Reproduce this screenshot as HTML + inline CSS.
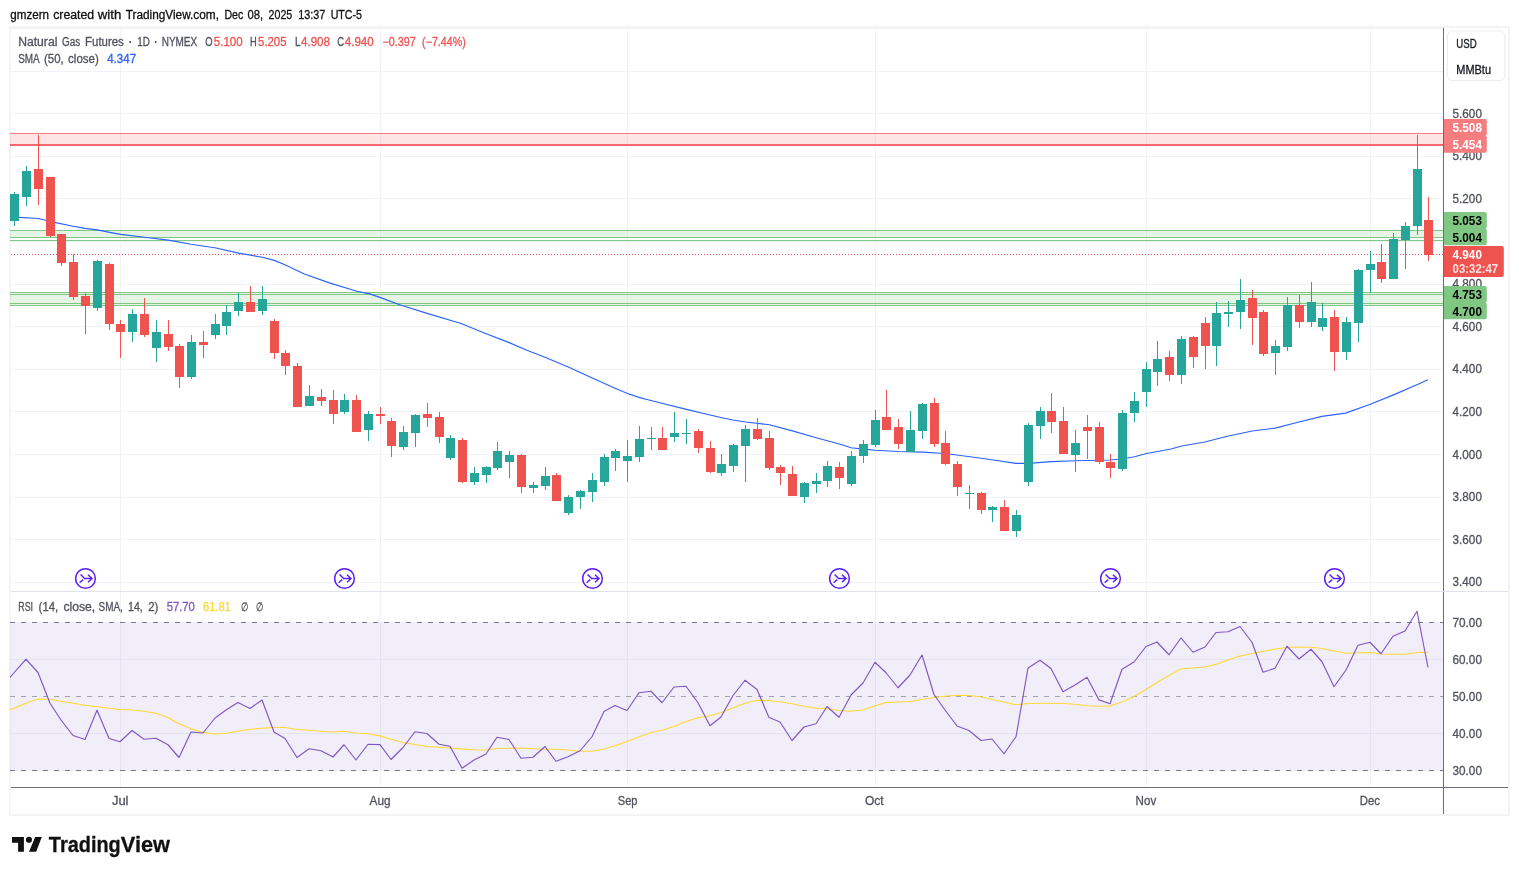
<!DOCTYPE html>
<html lang="en"><head><meta charset="utf-8"><title>Natural Gas Futures chart</title>
<style>html,body{margin:0;padding:0;background:#fff;}body{width:1519px;height:875px;overflow:hidden;}svg{display:block;}</style>
</head><body>
<svg width="1519" height="875" viewBox="0 0 1519 875" font-family='"Liberation Sans", sans-serif'>
<g shape-rendering="crispEdges">
<rect x="0" y="0" width="1519" height="875" fill="#ffffff" />
<rect x="9" y="26" width="1501" height="2" fill="#f4f4f4" />
<rect x="9" y="814" width="1501" height="2" fill="#f4f4f4" />
<rect x="9" y="26" width="2" height="790" fill="#f4f4f4" />
<rect x="1508" y="26" width="2" height="790" fill="#f4f4f4" />
<rect x="11" y="71" width="1432" height="1" fill="#f0f3fa" />
<rect x="11" y="113" width="1432" height="1" fill="#f0f3fa" />
<rect x="11" y="156" width="1432" height="1" fill="#f0f3fa" />
<rect x="11" y="198" width="1432" height="1" fill="#f0f3fa" />
<rect x="11" y="241" width="1432" height="1" fill="#f0f3fa" />
<rect x="11" y="284" width="1432" height="1" fill="#f0f3fa" />
<rect x="11" y="326" width="1432" height="1" fill="#f0f3fa" />
<rect x="11" y="369" width="1432" height="1" fill="#f0f3fa" />
<rect x="11" y="411" width="1432" height="1" fill="#f0f3fa" />
<rect x="11" y="454" width="1432" height="1" fill="#f0f3fa" />
<rect x="11" y="497" width="1432" height="1" fill="#f0f3fa" />
<rect x="11" y="539" width="1432" height="1" fill="#f0f3fa" />
<rect x="11" y="582" width="1432" height="1" fill="#f0f3fa" />
<rect x="11" y="28" width="1432" height="1" fill="#f0f3fa" />
<rect x="11" y="659" width="1432" height="1" fill="#f0f3fa" />
<rect x="11" y="733" width="1432" height="1" fill="#f0f3fa" />
<rect x="120" y="28" width="1" height="759" fill="#f0f3fa" />
<rect x="380" y="28" width="1" height="759" fill="#f0f3fa" />
<rect x="627" y="28" width="1" height="759" fill="#f0f3fa" />
<rect x="875" y="28" width="1" height="759" fill="#f0f3fa" />
<rect x="1146" y="28" width="1" height="759" fill="#f0f3fa" />
<rect x="1370" y="28" width="1" height="759" fill="#f0f3fa" />
<rect x="10" y="622" width="1433" height="149" fill="rgba(126,87,194,0.1)" />
<rect x="10" y="134" width="1433" height="10" fill="rgba(247,124,128,0.2)" />
<rect x="10" y="133" width="1433" height="1" fill="#f77c80" />
<rect x="10" y="144" width="1433" height="2" fill="#f7696f" />
<rect x="10" y="231" width="1433" height="6" fill="rgba(129,199,132,0.2)" />
<rect x="10" y="230" width="1433" height="1" fill="#81c784" />
<rect x="10" y="237" width="1433" height="1" fill="#81c784" />
<rect x="10" y="240" width="1433" height="1" fill="#81c784" />
<rect x="10" y="293" width="1433" height="12" fill="rgba(129,199,132,0.2)" />
<rect x="10" y="292" width="1433" height="1" fill="#81c784" />
<rect x="10" y="294" width="1433" height="1" fill="#81c784" />
<rect x="10" y="303" width="1433" height="1" fill="#81c784" />
<rect x="10" y="305" width="1433" height="1" fill="#81c784" />
</g>
<line x1="11" y1="254.5" x2="1443" y2="254.5" stroke="#ef5350" stroke-width="1" stroke-dasharray="1 2" shape-rendering="crispEdges"/>
<line x1="10" y1="622.5" x2="1443" y2="622.5" stroke="#787b86" stroke-width="1" stroke-dasharray="5 6" shape-rendering="crispEdges"/>
<line x1="10" y1="696.5" x2="1443" y2="696.5" stroke="#a0a3ab" stroke-width="1" stroke-dasharray="5 6" shape-rendering="crispEdges"/>
<line x1="10" y1="770.5" x2="1443" y2="770.5" stroke="#787b86" stroke-width="1" stroke-dasharray="5 6" shape-rendering="crispEdges"/>
<polyline points="10,217.2 19.1,217.4 38.4,218.5 55.7,222.6 73.1,226.2 85,228.4 97.4,229.9 109.7,232.4 120.7,234.4 144.4,237.2 168.4,240.1 191.1,244.3 214.9,247.8 238.7,253.1 262.4,257.3 274.3,260.4 286,265.3 303.8,273.8 329.4,282.9 356.8,291.2 369.6,293.9 380.6,297.6 398.9,304.5 426.3,313.1 461.1,323.5 484.9,333.2 508.6,342.4 526.9,350.2 545,357.3 568.25,367 592.25,378 615,388.3 627,393.2 639,397.4 648.8,400 662,403.2 685.4,409.1 710,415 721.9,417.7 732.75,420 745.7,422 769.5,424.7 793.3,431.1 816.25,437.8 839.2,444 851.1,447.7 863.4,449.1 875.4,450.2 898.7,451.5 922.4,452.1 945.3,453.5 970,456.8 991.9,459.75 1015.7,463.4 1028.5,463.4 1051.4,461.6 1075.2,460.7 1099,460.3 1110.5,460 1122.5,459 1134.5,456.7 1146.5,453.5 1170,449.3 1181.9,446 1204.8,442 1228.5,436 1252.3,431 1275.2,428.1 1298,422.25 1321.8,416.4 1345.6,413.1 1370.3,404.3 1394.1,394.6 1416.9,384.75 1427.9,379.8" fill="none" stroke="#2962ff" stroke-width="1.15" stroke-linejoin="round"/>
<g shape-rendering="crispEdges">
<rect x="14" y="192" width="1" height="34" fill="#26a69a" />
<rect x="10" y="194" width="9" height="27" fill="#26a69a" />
<rect x="26" y="166" width="1" height="40" fill="#26a69a" />
<rect x="22" y="171" width="9" height="26" fill="#26a69a" />
<rect x="38" y="135" width="1" height="70" fill="#ef5350" />
<rect x="34" y="169" width="9" height="20" fill="#ef5350" />
<rect x="50" y="177" width="1" height="60" fill="#ef5350" />
<rect x="46" y="177" width="9" height="59" fill="#ef5350" />
<rect x="61" y="234" width="1" height="32" fill="#ef5350" />
<rect x="57" y="234" width="9" height="29" fill="#ef5350" />
<rect x="73" y="254" width="1" height="46" fill="#ef5350" />
<rect x="69" y="262" width="9" height="35" fill="#ef5350" />
<rect x="85" y="293" width="1" height="41" fill="#ef5350" />
<rect x="81" y="296" width="9" height="10" fill="#ef5350" />
<rect x="97" y="260" width="1" height="51" fill="#26a69a" />
<rect x="93" y="261" width="9" height="47" fill="#26a69a" />
<rect x="109" y="263" width="1" height="67" fill="#ef5350" />
<rect x="105" y="264" width="9" height="60" fill="#ef5350" />
<rect x="120" y="320" width="1" height="38" fill="#ef5350" />
<rect x="116" y="324" width="9" height="8" fill="#ef5350" />
<rect x="132" y="309" width="1" height="33" fill="#26a69a" />
<rect x="128" y="314" width="9" height="18" fill="#26a69a" />
<rect x="144" y="298" width="1" height="39" fill="#ef5350" />
<rect x="140" y="314" width="9" height="21" fill="#ef5350" />
<rect x="156" y="320" width="1" height="42" fill="#26a69a" />
<rect x="152" y="332" width="9" height="16" fill="#26a69a" />
<rect x="168" y="320" width="1" height="31" fill="#ef5350" />
<rect x="164" y="334" width="9" height="13" fill="#ef5350" />
<rect x="179" y="344" width="1" height="44" fill="#ef5350" />
<rect x="175" y="346" width="9" height="31" fill="#ef5350" />
<rect x="191" y="335" width="1" height="44" fill="#26a69a" />
<rect x="187" y="342" width="9" height="35" fill="#26a69a" />
<rect x="203" y="331" width="1" height="27" fill="#ef5350" />
<rect x="199" y="342" width="9" height="3" fill="#ef5350" />
<rect x="215" y="314" width="1" height="25" fill="#26a69a" />
<rect x="211" y="324" width="9" height="11" fill="#26a69a" />
<rect x="226" y="305" width="1" height="30" fill="#26a69a" />
<rect x="222" y="312" width="9" height="14" fill="#26a69a" />
<rect x="238" y="293" width="1" height="23" fill="#26a69a" />
<rect x="234" y="302" width="9" height="9" fill="#26a69a" />
<rect x="250" y="286" width="1" height="26" fill="#ef5350" />
<rect x="246" y="302" width="9" height="10" fill="#ef5350" />
<rect x="262" y="286" width="1" height="29" fill="#26a69a" />
<rect x="258" y="299" width="9" height="12" fill="#26a69a" />
<rect x="274" y="319" width="1" height="40" fill="#ef5350" />
<rect x="270" y="321" width="9" height="32" fill="#ef5350" />
<rect x="285" y="350" width="1" height="25" fill="#ef5350" />
<rect x="281" y="353" width="9" height="13" fill="#ef5350" />
<rect x="297" y="363" width="1" height="44" fill="#ef5350" />
<rect x="293" y="366" width="9" height="41" fill="#ef5350" />
<rect x="309" y="385" width="1" height="21" fill="#26a69a" />
<rect x="305" y="396" width="9" height="10" fill="#26a69a" />
<rect x="321" y="389" width="1" height="17" fill="#ef5350" />
<rect x="317" y="397" width="9" height="4" fill="#ef5350" />
<rect x="333" y="390" width="1" height="34" fill="#ef5350" />
<rect x="329" y="400" width="9" height="14" fill="#ef5350" />
<rect x="344" y="394" width="1" height="20" fill="#26a69a" />
<rect x="340" y="400" width="9" height="12" fill="#26a69a" />
<rect x="356" y="395" width="1" height="37" fill="#ef5350" />
<rect x="352" y="400" width="9" height="32" fill="#ef5350" />
<rect x="368" y="411" width="1" height="30" fill="#26a69a" />
<rect x="364" y="414" width="9" height="16" fill="#26a69a" />
<rect x="380" y="407" width="1" height="17" fill="#ef5350" />
<rect x="376" y="414" width="9" height="2" fill="#ef5350" />
<rect x="391" y="418" width="1" height="39" fill="#ef5350" />
<rect x="387" y="421" width="9" height="25" fill="#ef5350" />
<rect x="403" y="426" width="1" height="24" fill="#26a69a" />
<rect x="399" y="432" width="9" height="15" fill="#26a69a" />
<rect x="415" y="414" width="1" height="33" fill="#26a69a" />
<rect x="411" y="415" width="9" height="18" fill="#26a69a" />
<rect x="427" y="403" width="1" height="24" fill="#ef5350" />
<rect x="423" y="414" width="9" height="4" fill="#ef5350" />
<rect x="439" y="412" width="1" height="31" fill="#ef5350" />
<rect x="435" y="417" width="9" height="20" fill="#ef5350" />
<rect x="450" y="435" width="1" height="25" fill="#26a69a" />
<rect x="446" y="438" width="9" height="20" fill="#26a69a" />
<rect x="462" y="438" width="1" height="45" fill="#ef5350" />
<rect x="458" y="440" width="9" height="42" fill="#ef5350" />
<rect x="474" y="467" width="1" height="18" fill="#26a69a" />
<rect x="470" y="473" width="9" height="9" fill="#26a69a" />
<rect x="486" y="466" width="1" height="17" fill="#26a69a" />
<rect x="482" y="467" width="9" height="8" fill="#26a69a" />
<rect x="497" y="442" width="1" height="28" fill="#26a69a" />
<rect x="493" y="451" width="9" height="17" fill="#26a69a" />
<rect x="509" y="451" width="1" height="27" fill="#26a69a" />
<rect x="505" y="455" width="9" height="7" fill="#26a69a" />
<rect x="521" y="454" width="1" height="39" fill="#ef5350" />
<rect x="517" y="455" width="9" height="32" fill="#ef5350" />
<rect x="533" y="482" width="1" height="11" fill="#26a69a" />
<rect x="529" y="485" width="9" height="3" fill="#26a69a" />
<rect x="545" y="467" width="1" height="23" fill="#26a69a" />
<rect x="541" y="476" width="9" height="10" fill="#26a69a" />
<rect x="556" y="473" width="1" height="28" fill="#ef5350" />
<rect x="552" y="475" width="9" height="26" fill="#ef5350" />
<rect x="568" y="495" width="1" height="20" fill="#26a69a" />
<rect x="564" y="497" width="9" height="16" fill="#26a69a" />
<rect x="580" y="490" width="1" height="19" fill="#26a69a" />
<rect x="576" y="491" width="9" height="6" fill="#26a69a" />
<rect x="592" y="473" width="1" height="29" fill="#26a69a" />
<rect x="588" y="480" width="9" height="12" fill="#26a69a" />
<rect x="604" y="454" width="1" height="32" fill="#26a69a" />
<rect x="600" y="457" width="9" height="25" fill="#26a69a" />
<rect x="615" y="449" width="1" height="22" fill="#26a69a" />
<rect x="611" y="451" width="9" height="7" fill="#26a69a" />
<rect x="627" y="440" width="1" height="42" fill="#26a69a" />
<rect x="623" y="456" width="9" height="5" fill="#26a69a" />
<rect x="639" y="426" width="1" height="36" fill="#26a69a" />
<rect x="635" y="439" width="9" height="18" fill="#26a69a" />
<rect x="651" y="427" width="1" height="23" fill="#26a69a" />
<rect x="647" y="438" width="9" height="1" fill="#26a69a" />
<rect x="662" y="427" width="1" height="23" fill="#ef5350" />
<rect x="658" y="438" width="9" height="12" fill="#ef5350" />
<rect x="674" y="412" width="1" height="30" fill="#26a69a" />
<rect x="670" y="433" width="9" height="4" fill="#26a69a" />
<rect x="686" y="419" width="1" height="25" fill="#26a69a" />
<rect x="682" y="433" width="9" height="1" fill="#26a69a" />
<rect x="698" y="429" width="1" height="24" fill="#ef5350" />
<rect x="694" y="431" width="9" height="17" fill="#ef5350" />
<rect x="710" y="441" width="1" height="32" fill="#ef5350" />
<rect x="706" y="448" width="9" height="24" fill="#ef5350" />
<rect x="721" y="454" width="1" height="22" fill="#26a69a" />
<rect x="717" y="464" width="9" height="9" fill="#26a69a" />
<rect x="733" y="444" width="1" height="28" fill="#26a69a" />
<rect x="729" y="445" width="9" height="21" fill="#26a69a" />
<rect x="745" y="425" width="1" height="57" fill="#26a69a" />
<rect x="741" y="429" width="9" height="17" fill="#26a69a" />
<rect x="757" y="418" width="1" height="22" fill="#ef5350" />
<rect x="753" y="429" width="9" height="10" fill="#ef5350" />
<rect x="769" y="431" width="1" height="39" fill="#ef5350" />
<rect x="765" y="438" width="9" height="30" fill="#ef5350" />
<rect x="780" y="465" width="1" height="20" fill="#ef5350" />
<rect x="776" y="467" width="9" height="6" fill="#ef5350" />
<rect x="792" y="466" width="1" height="30" fill="#ef5350" />
<rect x="788" y="474" width="9" height="22" fill="#ef5350" />
<rect x="804" y="482" width="1" height="21" fill="#26a69a" />
<rect x="800" y="483" width="9" height="14" fill="#26a69a" />
<rect x="816" y="473" width="1" height="20" fill="#26a69a" />
<rect x="812" y="481" width="9" height="3" fill="#26a69a" />
<rect x="827" y="461" width="1" height="26" fill="#26a69a" />
<rect x="823" y="466" width="9" height="15" fill="#26a69a" />
<rect x="839" y="462" width="1" height="27" fill="#ef5350" />
<rect x="835" y="467" width="9" height="11" fill="#ef5350" />
<rect x="851" y="451" width="1" height="35" fill="#26a69a" />
<rect x="847" y="456" width="9" height="28" fill="#26a69a" />
<rect x="863" y="440" width="1" height="23" fill="#26a69a" />
<rect x="859" y="444" width="9" height="12" fill="#26a69a" />
<rect x="875" y="410" width="1" height="37" fill="#26a69a" />
<rect x="871" y="420" width="9" height="25" fill="#26a69a" />
<rect x="886" y="390" width="1" height="40" fill="#ef5350" />
<rect x="882" y="417" width="9" height="13" fill="#ef5350" />
<rect x="898" y="419" width="1" height="30" fill="#ef5350" />
<rect x="894" y="427" width="9" height="17" fill="#ef5350" />
<rect x="910" y="411" width="1" height="41" fill="#26a69a" />
<rect x="906" y="430" width="9" height="22" fill="#26a69a" />
<rect x="922" y="403" width="1" height="36" fill="#26a69a" />
<rect x="918" y="404" width="9" height="27" fill="#26a69a" />
<rect x="934" y="398" width="1" height="49" fill="#ef5350" />
<rect x="930" y="403" width="9" height="41" fill="#ef5350" />
<rect x="945" y="431" width="1" height="34" fill="#ef5350" />
<rect x="941" y="443" width="9" height="21" fill="#ef5350" />
<rect x="957" y="461" width="1" height="35" fill="#ef5350" />
<rect x="953" y="464" width="9" height="23" fill="#ef5350" />
<rect x="969" y="485" width="1" height="24" fill="#26a69a" />
<rect x="965" y="493" width="9" height="1" fill="#26a69a" />
<rect x="981" y="492" width="1" height="22" fill="#ef5350" />
<rect x="977" y="493" width="9" height="17" fill="#ef5350" />
<rect x="992" y="506" width="1" height="16" fill="#26a69a" />
<rect x="988" y="507" width="9" height="3" fill="#26a69a" />
<rect x="1004" y="500" width="1" height="31" fill="#ef5350" />
<rect x="1000" y="507" width="9" height="24" fill="#ef5350" />
<rect x="1016" y="510" width="1" height="27" fill="#26a69a" />
<rect x="1012" y="515" width="9" height="16" fill="#26a69a" />
<rect x="1028" y="423" width="1" height="63" fill="#26a69a" />
<rect x="1024" y="425" width="9" height="57" fill="#26a69a" />
<rect x="1040" y="407" width="1" height="32" fill="#26a69a" />
<rect x="1036" y="411" width="9" height="15" fill="#26a69a" />
<rect x="1051" y="393" width="1" height="40" fill="#ef5350" />
<rect x="1047" y="411" width="9" height="11" fill="#ef5350" />
<rect x="1063" y="407" width="1" height="47" fill="#ef5350" />
<rect x="1059" y="421" width="9" height="33" fill="#ef5350" />
<rect x="1075" y="430" width="1" height="42" fill="#26a69a" />
<rect x="1071" y="443" width="9" height="12" fill="#26a69a" />
<rect x="1087" y="415" width="1" height="44" fill="#ef5350" />
<rect x="1083" y="427" width="9" height="4" fill="#ef5350" />
<rect x="1099" y="422" width="1" height="42" fill="#ef5350" />
<rect x="1095" y="427" width="9" height="35" fill="#ef5350" />
<rect x="1110" y="454" width="1" height="24" fill="#ef5350" />
<rect x="1106" y="462" width="9" height="6" fill="#ef5350" />
<rect x="1122" y="410" width="1" height="61" fill="#26a69a" />
<rect x="1118" y="413" width="9" height="56" fill="#26a69a" />
<rect x="1134" y="392" width="1" height="30" fill="#26a69a" />
<rect x="1130" y="401" width="9" height="12" fill="#26a69a" />
<rect x="1146" y="362" width="1" height="45" fill="#26a69a" />
<rect x="1142" y="369" width="9" height="23" fill="#26a69a" />
<rect x="1157" y="341" width="1" height="45" fill="#26a69a" />
<rect x="1153" y="359" width="9" height="13" fill="#26a69a" />
<rect x="1169" y="351" width="1" height="30" fill="#ef5350" />
<rect x="1165" y="357" width="9" height="18" fill="#ef5350" />
<rect x="1181" y="336" width="1" height="48" fill="#26a69a" />
<rect x="1177" y="339" width="9" height="36" fill="#26a69a" />
<rect x="1193" y="336" width="1" height="32" fill="#ef5350" />
<rect x="1189" y="337" width="9" height="20" fill="#ef5350" />
<rect x="1205" y="317" width="1" height="52" fill="#ef5350" />
<rect x="1201" y="323" width="9" height="23" fill="#ef5350" />
<rect x="1216" y="302" width="1" height="64" fill="#26a69a" />
<rect x="1212" y="313" width="9" height="33" fill="#26a69a" />
<rect x="1228" y="301" width="1" height="26" fill="#26a69a" />
<rect x="1224" y="312" width="9" height="2" fill="#26a69a" />
<rect x="1240" y="279" width="1" height="50" fill="#26a69a" />
<rect x="1236" y="300" width="9" height="12" fill="#26a69a" />
<rect x="1252" y="290" width="1" height="55" fill="#ef5350" />
<rect x="1248" y="298" width="9" height="20" fill="#ef5350" />
<rect x="1263" y="310" width="1" height="46" fill="#ef5350" />
<rect x="1259" y="312" width="9" height="42" fill="#ef5350" />
<rect x="1275" y="340" width="1" height="35" fill="#26a69a" />
<rect x="1271" y="346" width="9" height="7" fill="#26a69a" />
<rect x="1287" y="297" width="1" height="54" fill="#26a69a" />
<rect x="1283" y="305" width="9" height="42" fill="#26a69a" />
<rect x="1299" y="295" width="1" height="33" fill="#ef5350" />
<rect x="1295" y="305" width="9" height="17" fill="#ef5350" />
<rect x="1311" y="282" width="1" height="45" fill="#26a69a" />
<rect x="1307" y="302" width="9" height="20" fill="#26a69a" />
<rect x="1322" y="303" width="1" height="28" fill="#26a69a" />
<rect x="1318" y="318" width="9" height="9" fill="#26a69a" />
<rect x="1334" y="310" width="1" height="61" fill="#ef5350" />
<rect x="1330" y="317" width="9" height="35" fill="#ef5350" />
<rect x="1346" y="317" width="1" height="43" fill="#26a69a" />
<rect x="1342" y="322" width="9" height="30" fill="#26a69a" />
<rect x="1358" y="269" width="1" height="73" fill="#26a69a" />
<rect x="1354" y="270" width="9" height="53" fill="#26a69a" />
<rect x="1370" y="251" width="1" height="42" fill="#26a69a" />
<rect x="1366" y="264" width="9" height="6" fill="#26a69a" />
<rect x="1381" y="244" width="1" height="39" fill="#ef5350" />
<rect x="1377" y="262" width="9" height="17" fill="#ef5350" />
<rect x="1393" y="233" width="1" height="46" fill="#26a69a" />
<rect x="1389" y="239" width="9" height="40" fill="#26a69a" />
<rect x="1405" y="222" width="1" height="47" fill="#26a69a" />
<rect x="1401" y="226" width="9" height="14" fill="#26a69a" />
<rect x="1417" y="135" width="1" height="100" fill="#26a69a" />
<rect x="1413" y="169" width="9" height="57" fill="#26a69a" />
<rect x="1428" y="197" width="1" height="64" fill="#ef5350" />
<rect x="1424" y="220" width="9" height="35" fill="#ef5350" />
</g>
<clipPath id="cp"><rect x="10" y="592" width="1433" height="195"/></clipPath>
<g clip-path="url(#cp)"><polyline points="-1.3,714 14,708.2 26,703.25 38,699 50,699.25 61,701.25 73,703.25 85,705.25 97,706.75 109,708.25 120,709.5 132,710 144,711.25 156,713.25 168,717.5 179,723.75 191,728.75 203,732.5 215,734 226,733.25 238,731.25 250,729.25 262,728.25 274,727.5 285,727.5 297,729.5 309,730.25 321,731.25 333,732 344,731.25 356,733 368,733.75 380,735.9 391,739.25 403,742.5 415,744.5 427,746.5 439,747.25 450,748 462,749 474,749.75 486,750 497,748.5 509,748.25 521,748 533,748.75 545,749.25 556,749.25 568,750 580,751.25 592,751.25 604,749 615,745.75 627,741.5 639,736.75 651,732.5 662,730.25 674,726.5 686,721.5 698,717.75 710,715.75 721,712.5 733,708 745,703.25 757,700.25 769,700.5 780,701.75 792,703.75 804,706.25 816,708.25 827,708.75 839,710.5 851,711.25 863,710 875,705.75 886,702.5 898,702 910,701.5 922,699.25 934,697.5 945,696.25 957,695.25 969,695.5 981,696.75 992,699.5 1004,702 1016,704.75 1028,703.5 1040,703.25 1051,703.25 1063,703.5 1075,704.25 1087,705.75 1099,706.25 1110,706 1122,701.75 1134,696.5 1146,689.5 1157,682.5 1169,675.5 1181,669 1193,668 1205,667 1216,664.25 1228,660 1240,656 1252,653.5 1263,651.5 1275,649 1287,647.5 1299,647 1311,647.25 1322,648.5 1334,651 1346,653.25 1358,652.75 1370,652.5 1381,654 1393,654.25 1405,654.25 1417,652.5 1428,652.25" fill="none" stroke="#fdd835" stroke-width="1.15" stroke-linejoin="round"/>
<polyline points="2.7,686 14,672.75 26,659.25 38,672.5 50,703.25 61,720 73,735.5 85,739.5 97,710.25 109,738.5 120,741.75 132,730.5 144,739.25 156,738.25 168,744.75 179,757.5 191,732 203,733 215,718 226,710 238,702.5 250,708.5 262,700 274,732 285,738.5 297,757.5 309,748.75 321,750.75 333,757 344,744.75 356,760 368,744.25 380,744.6 391,759.5 403,747.5 415,731.75 427,733.5 439,744.25 450,746.25 462,768.25 474,760 486,754 497,737.25 509,739.5 521,758.25 533,757.25 545,746.5 556,761.25 568,756.75 580,750.75 592,736.75 604,711.5 615,705.5 627,710.5 639,692.75 651,691.25 662,702.75 674,687 686,686.25 698,702.75 710,725.75 721,717 733,695.5 745,680.25 757,689.5 769,717.5 780,722 792,740.5 804,727 816,723.75 827,706.5 839,717.25 851,695 863,683 875,662.25 886,672.75 898,687.75 910,675 922,655 934,694.5 945,710 957,726 969,730.5 981,740.5 992,739 1004,753.75 1016,736.75 1028,668 1040,660.25 1051,668.5 1063,691.75 1075,685 1087,677.25 1099,699.9 1110,703.75 1122,669.25 1134,662 1146,646.5 1157,642 1169,654.75 1181,638 1193,652.25 1205,647 1216,632.5 1228,631.75 1240,626.5 1252,642.25 1263,672.25 1275,668.25 1287,646.25 1299,659 1311,649.25 1322,661.75 1334,686.75 1346,670 1358,645.25 1370,642.25 1381,653.75 1393,636.25 1405,631 1417,611.25 1428,667.5" fill="none" stroke="#7e57c2" stroke-width="1.15" stroke-linejoin="round"/></g>
<g shape-rendering="crispEdges">
<rect x="1443" y="28" width="1" height="786" fill="#6a6d78" />
<rect x="11" y="787" width="1497" height="1" fill="#6a6d78" />
<rect x="11" y="591" width="1497" height="1" fill="#e0e3eb" />
</g>
<g transform="translate(85.5,578.5)" fill="none" stroke="#5b21f5" stroke-width="1.5"><circle cx="0" cy="0" r="9.85" fill="#fff"/><path d="M-4.9,-4.1 L-0.9,0 L6.2,0 M2.5,-3.8 L6.5,0 L2.5,3.7 M-5.9,4.2 L-2.3,1.1"/></g>
<g transform="translate(344.5,578.5)" fill="none" stroke="#5b21f5" stroke-width="1.5"><circle cx="0" cy="0" r="9.85" fill="#fff"/><path d="M-4.9,-4.1 L-0.9,0 L6.2,0 M2.5,-3.8 L6.5,0 L2.5,3.7 M-5.9,4.2 L-2.3,1.1"/></g>
<g transform="translate(592.5,578.5)" fill="none" stroke="#5b21f5" stroke-width="1.5"><circle cx="0" cy="0" r="9.85" fill="#fff"/><path d="M-4.9,-4.1 L-0.9,0 L6.2,0 M2.5,-3.8 L6.5,0 L2.5,3.7 M-5.9,4.2 L-2.3,1.1"/></g>
<g transform="translate(839.5,578.5)" fill="none" stroke="#5b21f5" stroke-width="1.5"><circle cx="0" cy="0" r="9.85" fill="#fff"/><path d="M-4.9,-4.1 L-0.9,0 L6.2,0 M2.5,-3.8 L6.5,0 L2.5,3.7 M-5.9,4.2 L-2.3,1.1"/></g>
<g transform="translate(1110.5,578.5)" fill="none" stroke="#5b21f5" stroke-width="1.5"><circle cx="0" cy="0" r="9.85" fill="#fff"/><path d="M-4.9,-4.1 L-0.9,0 L6.2,0 M2.5,-3.8 L6.5,0 L2.5,3.7 M-5.9,4.2 L-2.3,1.1"/></g>
<g transform="translate(1334.5,578.5)" fill="none" stroke="#5b21f5" stroke-width="1.5"><circle cx="0" cy="0" r="9.85" fill="#fff"/><path d="M-4.9,-4.1 L-0.9,0 L6.2,0 M2.5,-3.8 L6.5,0 L2.5,3.7 M-5.9,4.2 L-2.3,1.1"/></g>
<text x="1452.6" y="117.6" fill="#50535e" font-size="12" textLength="29.3" lengthAdjust="spacingAndGlyphs" stroke="#50535e" stroke-width="0.3" >5.600</text>
<text x="1452.6" y="160.2" fill="#50535e" font-size="12" textLength="29.3" lengthAdjust="spacingAndGlyphs" stroke="#50535e" stroke-width="0.3" >5.400</text>
<text x="1452.6" y="202.8" fill="#50535e" font-size="12" textLength="29.3" lengthAdjust="spacingAndGlyphs" stroke="#50535e" stroke-width="0.3" >5.200</text>
<text x="1452.6" y="288.0" fill="#50535e" font-size="12" textLength="29.3" lengthAdjust="spacingAndGlyphs" stroke="#50535e" stroke-width="0.3" >4.800</text>
<text x="1452.6" y="330.6" fill="#50535e" font-size="12" textLength="29.3" lengthAdjust="spacingAndGlyphs" stroke="#50535e" stroke-width="0.3" >4.600</text>
<text x="1452.6" y="373.2" fill="#50535e" font-size="12" textLength="29.3" lengthAdjust="spacingAndGlyphs" stroke="#50535e" stroke-width="0.3" >4.400</text>
<text x="1452.6" y="415.8" fill="#50535e" font-size="12" textLength="29.3" lengthAdjust="spacingAndGlyphs" stroke="#50535e" stroke-width="0.3" >4.200</text>
<text x="1452.6" y="459.1" fill="#50535e" font-size="12" textLength="29.3" lengthAdjust="spacingAndGlyphs" stroke="#50535e" stroke-width="0.3" >4.000</text>
<text x="1452.6" y="501.0" fill="#50535e" font-size="12" textLength="29.3" lengthAdjust="spacingAndGlyphs" stroke="#50535e" stroke-width="0.3" >3.800</text>
<text x="1452.6" y="543.6" fill="#50535e" font-size="12" textLength="29.3" lengthAdjust="spacingAndGlyphs" stroke="#50535e" stroke-width="0.3" >3.600</text>
<text x="1452.6" y="586.2" fill="#50535e" font-size="12" textLength="29.3" lengthAdjust="spacingAndGlyphs" stroke="#50535e" stroke-width="0.3" >3.400</text>
<text x="1452.6" y="626.8" fill="#50535e" font-size="12" textLength="29.3" lengthAdjust="spacingAndGlyphs" stroke="#50535e" stroke-width="0.3" >70.00</text>
<text x="1452.6" y="663.8" fill="#50535e" font-size="12" textLength="29.3" lengthAdjust="spacingAndGlyphs" stroke="#50535e" stroke-width="0.3" >60.00</text>
<text x="1452.6" y="701.3" fill="#50535e" font-size="12" textLength="29.3" lengthAdjust="spacingAndGlyphs" stroke="#50535e" stroke-width="0.3" >50.00</text>
<text x="1452.6" y="738.2" fill="#50535e" font-size="12" textLength="29.3" lengthAdjust="spacingAndGlyphs" stroke="#50535e" stroke-width="0.3" >40.00</text>
<text x="1452.6" y="775.4" fill="#50535e" font-size="12" textLength="29.3" lengthAdjust="spacingAndGlyphs" stroke="#50535e" stroke-width="0.3" >30.00</text>
<path d="M1444,119 H1484.8 Q1486.8,119 1486.8,121 V134.60000000000002 L1485.6,135.8 L1486.8,137.0 V150.7 Q1486.8,152.7 1484.8,152.7 H1444 Z" fill="#f77c80"/>
<text x="1452.6" y="131.9" fill="#fff" font-size="12" textLength="29.3" lengthAdjust="spacingAndGlyphs" font-weight="bold" >5.508</text>
<text x="1452.6" y="149" fill="#fff" font-size="12" textLength="29.3" lengthAdjust="spacingAndGlyphs" font-weight="bold" >5.454</text>
<path d="M1444,212.1 H1484.8 Q1486.8,212.1 1486.8,214.1 V227.3 L1485.6,228.5 L1486.8,229.7 V243.2 Q1486.8,245.2 1484.8,245.2 H1444 Z" fill="#81c784"/>
<text x="1452.6" y="224.9" fill="#000" font-size="12" textLength="29.3" lengthAdjust="spacingAndGlyphs" font-weight="bold" >5.053</text>
<text x="1452.6" y="242" fill="#000" font-size="12" textLength="29.3" lengthAdjust="spacingAndGlyphs" font-weight="bold" >5.004</text>
<path d="M1444,286 H1484.8 Q1486.8,286 1486.8,288 V301.6 L1485.6,302.8 L1486.8,304.0 V317.3 Q1486.8,319.3 1484.8,319.3 H1444 Z" fill="#81c784"/>
<text x="1452.6" y="299.1" fill="#000" font-size="12" textLength="29.3" lengthAdjust="spacingAndGlyphs" font-weight="bold" >4.753</text>
<text x="1452.6" y="316.1" fill="#000" font-size="12" textLength="29.3" lengthAdjust="spacingAndGlyphs" font-weight="bold" >4.700</text>
<path d="M1444,246 H1501.8 Q1503.8,246 1503.8,248 V274.9 Q1503.8,276.9 1501.8,276.9 H1444 Z" fill="#ef5350"/>
<text x="1452.6" y="259.1" fill="#fff" font-size="12" textLength="29.3" lengthAdjust="spacingAndGlyphs" font-weight="bold" >4.940</text>
<text x="1452.6" y="272.7" fill="rgba(255,255,255,0.85)" font-size="12" textLength="45.6" lengthAdjust="spacingAndGlyphs" font-weight="bold" >03:32:47</text>
<rect x="1447.4" y="30.9" width="57.4" height="49.8" rx="5" ry="5" fill="#fff" stroke="#ececee" stroke-width="1"/>
<text x="1456.3" y="47.7" fill="#131722" font-size="12" textLength="20.4" lengthAdjust="spacingAndGlyphs" stroke="#131722" stroke-width="0.3" >USD</text>
<text x="1456.3" y="73.8" fill="#131722" font-size="12" textLength="34.7" lengthAdjust="spacingAndGlyphs" stroke="#131722" stroke-width="0.3" >MMBtu</text>
<text y="18.6" fill="#111" font-size="12" stroke="#111" stroke-width="0.3"><tspan x="10.25" textLength="38.75" lengthAdjust="spacingAndGlyphs">gmzern</tspan> <tspan x="53.2" textLength="40.9" lengthAdjust="spacingAndGlyphs">created</tspan> <tspan x="97.8" textLength="23.5" lengthAdjust="spacingAndGlyphs">with</tspan> <tspan x="125.7" textLength="93.3" lengthAdjust="spacingAndGlyphs">TradingView.com,</tspan> <tspan x="224.4" textLength="18.8" lengthAdjust="spacingAndGlyphs">Dec</tspan> <tspan x="247.5" textLength="15.7" lengthAdjust="spacingAndGlyphs">08,</tspan> <tspan x="268.6" textLength="23.7" lengthAdjust="spacingAndGlyphs">2025</tspan> <tspan x="298.2" textLength="27.1" lengthAdjust="spacingAndGlyphs">13:37</tspan> <tspan x="330.7" textLength="31.3" lengthAdjust="spacingAndGlyphs">UTC-5</tspan></text>
<text y="45.8" fill="#50535e" font-size="12" stroke="#50535e" stroke-width="0.3"><tspan x="18.2" textLength="39.2" lengthAdjust="spacingAndGlyphs">Natural</tspan> <tspan x="62.1" textLength="18.2" lengthAdjust="spacingAndGlyphs">Gas</tspan> <tspan x="85.05" textLength="38.75" lengthAdjust="spacingAndGlyphs">Futures</tspan> <tspan x="128.6" font-weight="bold" stroke="none">·</tspan> <tspan x="137.2" textLength="12.6" lengthAdjust="spacingAndGlyphs">1D</tspan> <tspan x="154.0" font-weight="bold" stroke="none">·</tspan> <tspan x="161.7" textLength="35.5" lengthAdjust="spacingAndGlyphs">NYMEX</tspan></text>
<text x="205.2" y="45.8" fill="#50535e" font-size="12" textLength="7.3" lengthAdjust="spacingAndGlyphs" stroke="#50535e" stroke-width="0.3" >O</text>
<text x="213.8" y="45.8" fill="#ef5350" font-size="12" textLength="28.8" lengthAdjust="spacingAndGlyphs" stroke="#ef5350" stroke-width="0.3" >5.100</text>
<text x="250.1" y="45.8" fill="#50535e" font-size="12" textLength="6.7" lengthAdjust="spacingAndGlyphs" stroke="#50535e" stroke-width="0.3" >H</text>
<text x="258.1" y="45.8" fill="#ef5350" font-size="12" textLength="28.4" lengthAdjust="spacingAndGlyphs" stroke="#ef5350" stroke-width="0.3" >5.205</text>
<text x="294.9" y="45.8" fill="#50535e" font-size="12" textLength="5.6" lengthAdjust="spacingAndGlyphs" stroke="#50535e" stroke-width="0.3" >L</text>
<text x="301" y="45.8" fill="#ef5350" font-size="12" textLength="29" lengthAdjust="spacingAndGlyphs" stroke="#ef5350" stroke-width="0.3" >4.908</text>
<text x="337.3" y="45.8" fill="#50535e" font-size="12" textLength="6.8" lengthAdjust="spacingAndGlyphs" stroke="#50535e" stroke-width="0.3" >C</text>
<text x="344.7" y="45.8" fill="#ef5350" font-size="12" textLength="29.1" lengthAdjust="spacingAndGlyphs" stroke="#ef5350" stroke-width="0.3" >4.940</text>
<text y="45.8" fill="#ef5350" font-size="12" stroke="#ef5350" stroke-width="0.3"><tspan x="382.5" textLength="33.2" lengthAdjust="spacingAndGlyphs">−0.397</tspan> <tspan x="422.1" textLength="43.7" lengthAdjust="spacingAndGlyphs">(−7.44%)</tspan></text>
<text y="62.7" fill="#50535e" font-size="12" stroke="#50535e" stroke-width="0.3"><tspan x="18.2" textLength="21.0" lengthAdjust="spacingAndGlyphs">SMA</tspan> <tspan x="44" textLength="19.7" lengthAdjust="spacingAndGlyphs">(50,</tspan> <tspan x="68.1" textLength="30.7" lengthAdjust="spacingAndGlyphs">close)</tspan></text>
<text x="107.2" y="62.7" fill="#2962ff" font-size="12" textLength="28.9" lengthAdjust="spacingAndGlyphs" stroke="#2962ff" stroke-width="0.3" >4.347</text>
<text y="610.7" fill="#50535e" font-size="12" stroke="#50535e" stroke-width="0.3"><tspan x="18.3" textLength="14.7" lengthAdjust="spacingAndGlyphs">RSI</tspan> <tspan x="38.6" textLength="19.7" lengthAdjust="spacingAndGlyphs">(14,</tspan> <tspan x="63.5" textLength="31.7" lengthAdjust="spacingAndGlyphs">close,</tspan> <tspan x="98.5" textLength="24.3" lengthAdjust="spacingAndGlyphs">SMA,</tspan> <tspan x="128" textLength="14.7" lengthAdjust="spacingAndGlyphs">14,</tspan> <tspan x="148.2" textLength="10.2" lengthAdjust="spacingAndGlyphs">2)</tspan></text>
<text x="166.7" y="610.7" fill="#7e57c2" font-size="12" textLength="28.2" lengthAdjust="spacingAndGlyphs" stroke="#7e57c2" stroke-width="0.3" >57.70</text>
<text x="203" y="610.7" fill="#fdd835" font-size="12" textLength="27.8" lengthAdjust="spacingAndGlyphs" stroke="#fdd835" stroke-width="0.3" >61.81</text>
<text x="240.8" y="610.7" fill="#50535e" font-size="12" textLength="7" lengthAdjust="spacingAndGlyphs" stroke="#50535e" stroke-width="0.3" >∅</text>
<text x="256.1" y="610.7" fill="#50535e" font-size="12" textLength="7" lengthAdjust="spacingAndGlyphs" stroke="#50535e" stroke-width="0.3" >∅</text>
<text x="111.9" y="804.8" fill="#50535e" font-size="12" textLength="16.6" lengthAdjust="spacingAndGlyphs" stroke="#50535e" stroke-width="0.3" >Jul</text>
<text x="369.6" y="804.8" fill="#50535e" font-size="12" textLength="20.9" lengthAdjust="spacingAndGlyphs" stroke="#50535e" stroke-width="0.3" >Aug</text>
<text x="617.8" y="804.8" fill="#50535e" font-size="12" textLength="19.7" lengthAdjust="spacingAndGlyphs" stroke="#50535e" stroke-width="0.3" >Sep</text>
<text x="864.9" y="804.8" fill="#50535e" font-size="12" textLength="18.6" lengthAdjust="spacingAndGlyphs" stroke="#50535e" stroke-width="0.3" >Oct</text>
<text x="1135.6" y="804.8" fill="#50535e" font-size="12" textLength="20.6" lengthAdjust="spacingAndGlyphs" stroke="#50535e" stroke-width="0.3" >Nov</text>
<text x="1359.7" y="804.8" fill="#50535e" font-size="12" textLength="20.2" lengthAdjust="spacingAndGlyphs" stroke="#50535e" stroke-width="0.3" >Dec</text>
<g fill="#111"><path d="M12,837 H23.9 V851.85 H18.1 V842.75 H12 Z"/><circle cx="28.95" cy="839.85" r="3.05"/><path d="M35.17,837 H41.8 L36.16,851.85 H29.04 Z"/></g>
<text y="851.85" fill="#111" font-size="21.6" font-weight="bold" stroke="#111" stroke-width="0.3"><tspan x="48.85" textLength="71.9" lengthAdjust="spacingAndGlyphs">Trading</tspan><tspan x="120.8" textLength="49.2" lengthAdjust="spacingAndGlyphs">View</tspan></text>
</svg>
</body></html>
